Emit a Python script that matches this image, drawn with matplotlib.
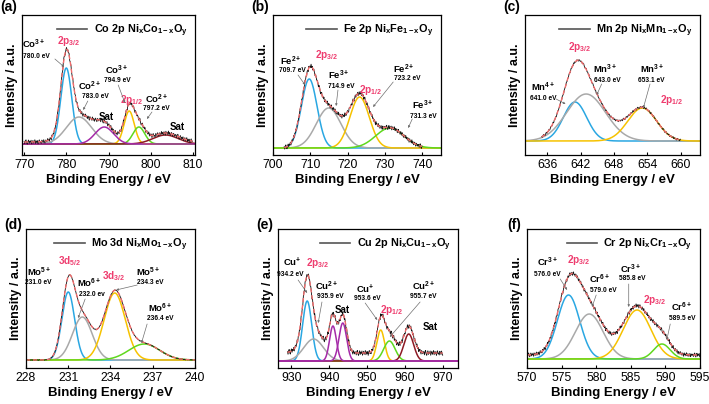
import numpy as np
import matplotlib
matplotlib.use("Agg")
import matplotlib.pyplot as plt

plt.rcParams['font.family'] = ['Liberation Sans', 'DejaVu Sans']
plt.rcParams['mathtext.fontset'] = 'custom'
plt.rcParams['mathtext.rm'] = 'Liberation Sans'
plt.rcParams['mathtext.bf'] = 'Liberation Sans:bold'
plt.rcParams['mathtext.it'] = 'Liberation Sans:italic'

# ---------------- data (peak fits) ----------------
# (a) Co 2p
co_center = [780.0, 783.0, 794.9, 797.2, 803.5, 789.0]
co_height = [76, 27, 33, 17, 9, 17]
co_sigma = [1.3, 3.0, 1.2, 1.4, 3.0, 2.2]
co_range = (770, 810)
co_offset = 2

# (b) Fe 2p
fe_center = [709.7, 714.9, 723.2, 731.3]
fe_height = [69, 40, 51, 20]
fe_sigma = [2.1, 3.3, 2.6, 3.8]
fe_range = (703, 740)
fe_offset = 0

# (c) Mn 2p
mn_center = [641.0, 643.0, 653.1]
mn_height = [39, 47, 33]
mn_sigma = [2.1, 3.5, 2.6]
mn_range = (635, 660)
mn_offset = 0

# (d) Mo 3d
mo_center = [231.0, 232.0, 234.3, 236.4]
mo_height = [68, 43, 67, 16]
mo_sigma = [0.45, 0.7, 0.75, 1.1]
mo_range = (228, 240)
mo_offset = 0

# (e) Cu 2p
cu_center = [934.2, 935.9, 953.6, 955.9, 961.0, 941.0, 943.6]
cu_height = [60, 22, 31, 20, 27, 35, 38]
cu_sigma = [1.2, 2.6, 1.0, 1.5, 1.3, 0.9, 1.0]
cu_range = (929, 970)
cu_offset = 8

# (f) Cr 2p
cr_center = [576.0, 579.0, 585.9, 589.5]
cr_height = [64, 45, 49, 15]
cr_sigma = [1.6, 2.0, 2.0, 1.2]
cr_range = (570, 595)
cr_offset = 4

# measurement jitter, typed by hand
jitter = [0.3, -0.8, 0.6, 1.0, -0.4, -1.0, 0.2, 0.9, -0.6, 0.4, -0.2, 0.8, -0.9, 0.1, 0.7,
          -0.5, -0.1, 1.0, -0.7, 0.5, -0.3, 0.6, -1.0, 0.2, 0.9, -0.4, 0.0, -0.8, 0.7, 0.3,
          -0.6, 0.8, -0.2, -0.9, 0.5, 0.1, -0.5, 0.9, -0.3, 0.4, -0.7, 0.6, 0.2, -1.0, 0.8,
          -0.1, 0.3, -0.6, 1.0, -0.4, 0.5, -0.8, 0.1, 0.7, -0.3, -0.9, 0.6, 0.2, -0.5, 0.4]

# ---------------- styles ----------------
BLUE = '#2aa7e2'
GRAY = '#a9a9a9'
PURP = '#a52aa8'
YELL = '#f6c200'
GREEN = '#5fd81e'
DRED = '#8e1b24'
PINK = '#ee3d6f'
FIT = '#f26d6d'

W, H = 709, 404


def gauss(x, c, h, s):
    return h * np.exp(-(x - c) ** 2 / (2 * s * s))


def ion(ax, x, y, el, ch, fs=6.8):
    ax.text(x, y, el + r'$^{\mathbf{' + ch + '}}$', fontsize=fs, fontweight='bold',
            ha='center', va='center')


def ev(ax, x, y, s):
    ax.text(x, y, s, fontsize=4.8, fontweight='bold', ha='center', va='center')


def orb(ax, x, y, s):
    ax.text(x, y, s, fontsize=7.2, color=PINK, ha='center', va='center')


def sat(ax, x, y):
    ax.text(x, y, 'Sat', fontsize=7, fontweight='bold', ha='center', va='center')


def arrow(ax, p0, p1):
    ax.annotate('', xy=p1, xytext=p0,
                arrowprops=dict(arrowstyle='-|>', color='#6f6f6f', lw=0.5,
                                mutation_scale=3, shrinkA=0, shrinkB=0))


panels = [
    dict(lab='(a)', box=(22, 195, 15, 155), xlim=(769.5, 810.5), ylim=(-11, 129),
         xt=[770, 780, 790, 800, 810], c=co_center, h=co_height, s=co_sigma,
         col=[BLUE, GRAY, YELL, GREEN, DRED, PURP], rng=co_range, off=co_offset,
         step=0.15, amp=2.2, leg=r'Co 2p Ni$_\mathbf{x}$Co$_\mathbf{1-x}$O$_\mathbf{y}$'),
    dict(lab='(b)', box=(273, 441, 15, 155), xlim=(700, 745), ylim=(-7, 133),
         xt=[700, 710, 720, 730, 740], c=fe_center, h=fe_height, s=fe_sigma,
         col=[BLUE, GRAY, YELL, GREEN], rng=fe_range, off=fe_offset,
         step=0.15, amp=2.2, leg=r'Fe 2p Ni$_\mathbf{x}$Fe$_\mathbf{1-x}$O$_\mathbf{y}$'),
    dict(lab='(c)', box=(525, 700, 15, 155), xlim=(632, 663.5), ylim=(-14, 126),
         xt=[636, 642, 648, 654, 660], c=mn_center, h=mn_height, s=mn_sigma,
         col=[BLUE, GRAY, YELL], rng=mn_range, off=mn_offset,
         step=0.12, amp=1.1, leg=r'Mn 2p Ni$_\mathbf{x}$Mn$_\mathbf{1-x}$O$_\mathbf{y}$'),
    dict(lab='(d)', box=(26, 195, 229, 368), xlim=(228, 240), ylim=(-8, 131),
         xt=[228, 231, 234, 237, 240], c=mo_center, h=mo_height, s=mo_sigma,
         col=[BLUE, GRAY, YELL, GREEN], rng=mo_range, off=mo_offset,
         step=0.04, amp=0.4, leg=r'Mo 3d Ni$_\mathbf{x}$Mo$_\mathbf{1-x}$O$_\mathbf{y}$'),
    dict(lab='(e)', box=(278, 458, 229, 368), xlim=(926.5, 974), ylim=(-7, 132),
         xt=[930, 940, 950, 960, 970], c=cu_center, h=cu_height, s=cu_sigma,
         col=[BLUE, GRAY, YELL, GREEN, DRED, PURP, PURP], rng=cu_range, off=cu_offset,
         step=0.15, amp=2.5, leg=r'Cu 2p Ni$_\mathbf{x}$Cu$_\mathbf{1-x}$O$_\mathbf{y}$'),
    dict(lab='(f)', box=(527, 700, 229, 368), xlim=(570, 595), ylim=(-9, 130),
         xt=[570, 575, 580, 585, 590, 595], c=cr_center, h=cr_height, s=cr_sigma,
         col=[BLUE, GRAY, YELL, GREEN], rng=cr_range, off=cr_offset,
         step=0.08, amp=2.0, leg=r'Cr 2p Ni$_\mathbf{x}$Cr$_\mathbf{1-x}$O$_\mathbf{y}$'),
]

fig = plt.figure(figsize=(W / 100, H / 100), dpi=100)
axes = []
for p in panels:
    L, R, T, B = p['box']
    ax = fig.add_axes([L / W, 1 - B / H, (R - L) / W, (B - T) / H])
    axes.append(ax)

    # fitted components over the full window
    xf = np.linspace(p['xlim'][0], p['xlim'][1], 800)
    for c, h, s, col in zip(p['c'], p['h'], p['s'], p['col']):
        ax.plot(xf, gauss(xf, c, h, s), color=col, lw=1.1)

    # measured spectrum + envelope
    xd = np.arange(p['rng'][0], p['rng'][1] + 1e-6, p['step'])
    env = np.zeros_like(xd) + p['off']
    for c, h, s in zip(p['c'], p['h'], p['s']):
        env += gauss(xd, c, h, s)
    noise = np.resize(np.array(jitter), len(xd)) * p['amp']
    ax.plot(xd, env + noise, color='#111111', lw=0.6)
    ax.plot(xd, env, color=FIT, lw=1.0, ls=(0, (3, 2)))

    ax.plot([], [], color='#555555', lw=1.2, label=p['leg'])
    ax.legend(loc='upper right', frameon=False, handlelength=2.8, handletextpad=0.6,
              borderaxespad=0.3, prop=dict(size=7.8, weight='bold'))

    ax.set_xlim(p['xlim'])
    ax.set_ylim(p['ylim'])
    ax.set_xticks(p['xt'])
    ax.set_yticks([])
    ax.tick_params(axis='x', direction='in', length=2, labelsize=8.8, pad=3)
    ax.set_xlabel('Binding Energy / eV', fontsize=9.5, fontweight='bold', labelpad=2)
    ax.set_ylabel('Intensity / a.u.', fontsize=9, fontweight='bold', labelpad=3)
    for sp in ax.spines.values():
        sp.set_linewidth(0.9)

    ly = 7 if T < 100 else 225
    fig.text((L - 13) / W, 1 - ly / H, p['lab'], fontsize=10, fontweight='bold',
             ha='center', va='center')

a, b, c, d, e, f = axes

# (a) Co 2p labels
ion(a, 772.3, 100, 'Co', '3+'); ev(a, 772.8, 88, '780.0 eV')
orb(a, 780.6, 103, r'$\mathbf{2p_{3/2}}$')
ion(a, 785.6, 58, 'Co', '2+'); ev(a, 787.0, 48, '783.0 eV')
sat(a, 789.4, 27)
ion(a, 792.0, 74, 'Co', '3+'); ev(a, 792.2, 63, '794.9 eV')
orb(a, 795.6, 44, r'$\mathbf{2p_{1/2}}$')
ion(a, 801.4, 45, 'Co', '2+'); ev(a, 801.4, 36, '797.2 eV')
sat(a, 806.2, 17)
arrow(a, (777.3, 85), (779.5, 77))
arrow(a, (785.1, 43), (784.0, 34))
arrow(a, (792.3, 59), (793.9, 41))
arrow(a, (800.3, 32), (799.1, 25))

# (b) Fe 2p labels
ion(b, 704.8, 87, 'Fe', '2+'); ev(b, 705.2, 77, '709.7 eV')
orb(b, 714.5, 93, r'$\mathbf{2p_{3/2}}$')
ion(b, 717.6, 73, 'Fe', '3+'); ev(b, 718.2, 62, '714.9 eV')
orb(b, 726.2, 58, r'$\mathbf{2p_{1/2}}$')
ion(b, 735.0, 79, 'Fe', '2+'); ev(b, 736.0, 69, '723.2 eV')
ion(b, 740.0, 43, 'Fe', '3+'); ev(b, 740.2, 32, '731.3 eV')
arrow(b, (706.7, 73), (708.6, 63))
arrow(b, (717.4, 58), (716.9, 42))
arrow(b, (732.2, 66), (726.8, 41))
arrow(b, (737.3, 29), (736.2, 20))

# (c) Mn 2p labels
orb(c, 641.9, 94, r'$\mathbf{2p_{3/2}}$')
ion(c, 646.4, 72, 'Mn', '3+'); ev(c, 646.8, 61, '643.0 eV')
ion(c, 654.8, 72, 'Mn', '3+'); ev(c, 654.8, 61, '653.1 eV')
orb(c, 658.4, 41, r'$\mathbf{2p_{1/2}}$')
ion(c, 635.2, 54, 'Mn', '4+'); ev(c, 635.2, 43, '641.0 eV')
arrow(c, (645.8, 57), (644.9, 46))
arrow(c, (654.5, 57), (653.3, 33))
arrow(c, (637.6, 42), (639.3, 37))

# (d) Mo 3d labels
ion(d, 228.9, 88, 'Mo', '5+'); ev(d, 228.9, 77, '231.0 eV')
orb(d, 231.1, 99, r'$\mathbf{3d_{5/2}}$')
ion(d, 232.5, 77, 'Mo', '6+'); ev(d, 232.7, 66, '232.0 ev')
orb(d, 234.2, 84, r'$\mathbf{3d_{3/2}}$')
ion(d, 236.7, 88, 'Mo', '5+'); ev(d, 236.8, 77, '234.3 eV')
ion(d, 237.5, 52, 'Mo', '6+'); ev(d, 237.5, 41, '236.4 eV')
arrow(d, (232.2, 61), (231.7, 42))
arrow(d, (235.9, 75), (234.4, 70))
arrow(d, (236.6, 36), (236.2, 17))

# (e) Cu 2p labels
ion(e, 930.2, 99, 'Cu', '+'); ev(e, 929.8, 87, '934.2 eV')
orb(e, 937.0, 98, r'$\mathbf{2p_{3/2}}$')
ion(e, 939.4, 75, 'Cu', '2+'); ev(e, 940.2, 64, '935.9 eV')
sat(e, 943.4, 51)
ion(e, 949.5, 72, 'Cu', '+'); ev(e, 950.0, 62, '953.6 eV')
orb(e, 956.6, 51, r'$\mathbf{2p_{1/2}}$')
ion(e, 964.8, 75, 'Cu', '2+'); ev(e, 964.8, 64, '955.7 eV')
sat(e, 966.6, 34)
arrow(e, (931.8, 81), (934.2, 68))
arrow(e, (938.1, 59), (937.1, 38))
arrow(e, (949.5, 58), (952.7, 41))
arrow(e, (964.0, 59), (956.0, 24))

# (f) Cr 2p labels
ion(f, 573.0, 97, 'Cr', '3+'); ev(f, 573.0, 85, '576.0 eV')
orb(f, 577.4, 99, r'$\mathbf{2p_{3/2}}$')
ion(f, 580.5, 80, 'Cr', '6+'); ev(f, 581.0, 69, '579.0 eV')
ion(f, 584.9, 90, 'Cr', '3+'); ev(f, 585.2, 80, '585.8 eV')
orb(f, 588.5, 59, r'$\mathbf{2p_{3/2}}$')
ion(f, 592.4, 52, 'Cr', '6+'); ev(f, 592.4, 41, '589.5 eV')
arrow(f, (574.8, 80), (575.8, 69))
arrow(f, (580.0, 64), (579.4, 52))
arrow(f, (584.7, 75), (584.7, 52))
arrow(f, (590.7, 35), (590.2, 19))

fig.savefig('out.png', dpi=100)
